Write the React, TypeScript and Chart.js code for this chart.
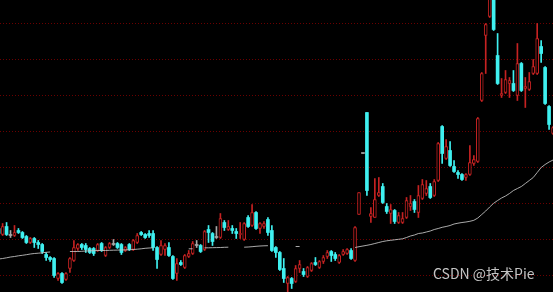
import React, { useEffect, useRef } from "react";
import { Chart, registerables } from "chart.js";

Chart.register(...registerables);

// Daily K-line data (price)
const open = [
  10.47, 10.41, 10.49, 10.40, 10.40, 10.45, 10.43, 10.39, 10.33, 10.37,
  10.33, 10.31, 10.21, 10.18, 10.17, 9.97, 10.02, 9.96, 10.07, 10.15,
  10.27, 10.31, 10.30, 10.27, 10.27, 10.25, 10.32, 10.20, 10.28, 10.31,
  10.32, 10.31, 10.25, 10.31, 10.26, 10.33, 10.43, 10.41, 10.42, 10.42,
  10.28, 10.21, 10.26, 10.28, 10.19, 10.02, 10.13, 10.08, 10.19, 10.22,
  10.30, 10.30, 10.26, 10.46, 10.42, 10.38, 10.38, 10.53, 10.46, 10.47,
  10.44, 10.41, 10.36, 10.58, 10.50, 10.63, 10.47, 10.49, 10.56, 10.45,
  10.28, 10.23, 10.07, 9.92, 9.97, 9.94, 10.07, 10.04, 9.99, 10.05,
  10.13, 10.08, 10.14, 10.19, 10.24, 10.21, 10.13, 10.21, 10.22, 10.25,
  10.15, 10.61, 11.22, 11.63, 10.59, 10.58, 10.80, 10.89, 10.69, 10.62,
  10.65, 10.53, 10.53, 10.58, 10.69, 10.74, 10.63, 10.77, 10.82, 10.89,
  10.80, 10.95, 11.49, 11.17, 11.25, 11.09, 11.03, 11.01, 10.98, 11.01,
  11.12, 11.14, 11.75, 12.40, 12.59, 12.95, 12.20, 11.80, 11.83, 11.92,
  11.92, 11.80, 12.12, 11.87, 11.86, 12.02, 12.02, 12.29, 12.08, 11.69,
  11.42,
];
const high = [
  10.49, 10.52, 10.53, 10.45, 10.50, 10.47, 10.44, 10.40, 10.38, 10.38,
  10.35, 10.32, 10.23, 10.19, 10.18, 10.03, 10.03, 10.03, 10.18, 10.35,
  10.32, 10.32, 10.32, 10.28, 10.28, 10.32, 10.33, 10.29, 10.33, 10.36,
  10.33, 10.32, 10.29, 10.32, 10.36, 10.42, 10.44, 10.42, 10.45, 10.45,
  10.29, 10.35, 10.32, 10.33, 10.20, 10.17, 10.15, 10.21, 10.25, 10.34,
  10.35, 10.31, 10.45, 10.50, 10.43, 10.49, 10.62, 10.55, 10.55, 10.50,
  10.47, 10.53, 10.53, 10.60, 10.71, 10.64, 10.53, 10.54, 10.58, 10.50,
  10.29, 10.24, 10.17, 9.99, 9.98, 10.10, 10.15, 10.07, 10.09, 10.13,
  10.18, 10.15, 10.20, 10.25, 10.25, 10.23, 10.21, 10.26, 10.27, 10.27,
  10.49, 10.83, 11.22, 11.63, 10.68, 10.97, 10.98, 10.92, 10.72, 10.71,
  10.66, 10.63, 10.63, 10.78, 10.80, 10.76, 10.90, 10.96, 10.95, 10.92,
  10.96, 11.33, 11.50, 11.36, 11.34, 11.15, 11.05, 11.02, 11.02, 11.30,
  11.20, 11.58, 12.03, 12.52, 13.05, 13.02, 12.42, 11.97, 12.05, 11.98,
  12.05, 12.32, 12.13, 11.98, 12.03, 12.16, 12.52, 12.35, 12.09, 11.70,
  11.49,
];
const low = [
  10.40, 10.40, 10.40, 10.38, 10.39, 10.42, 10.37, 10.32, 10.32, 10.28,
  10.27, 10.22, 10.15, 10.14, 9.98, 9.95, 9.92, 9.95, 10.03, 10.14,
  10.25, 10.26, 10.23, 10.22, 10.20, 10.24, 10.24, 10.19, 10.27, 10.30,
  10.27, 10.21, 10.24, 10.25, 10.25, 10.32, 10.40, 10.37, 10.38, 10.25,
  10.07, 10.20, 10.20, 10.19, 9.96, 9.95, 10.10, 10.07, 10.18, 10.21,
  10.28, 10.23, 10.25, 10.33, 10.30, 10.37, 10.37, 10.45, 10.45, 10.42,
  10.37, 10.37, 10.35, 10.48, 10.49, 10.46, 10.42, 10.47, 10.40, 10.24,
  10.18, 10.05, 9.93, 9.82, 9.87, 9.93, 10.03, 9.99, 9.98, 10.04,
  10.10, 10.07, 10.12, 10.17, 10.14, 10.15, 10.12, 10.20, 10.21, 10.16,
  10.14, 10.61, 11.22, 10.80, 10.53, 10.58, 10.79, 10.72, 10.62, 10.52,
  10.52, 10.52, 10.52, 10.57, 10.65, 10.63, 10.58, 10.76, 10.80, 10.77,
  10.79, 10.94, 11.12, 11.16, 11.09, 11.03, 10.97, 10.95, 10.95, 11.00,
  11.10, 11.13, 11.74, 12.02, 12.58, 12.45, 11.91, 11.78, 11.82, 11.78,
  11.84, 11.75, 11.84, 11.68, 11.85, 12.01, 12.01, 12.13, 11.71, 11.46,
  11.41,
];
const close = [
  10.42, 10.49, 10.41, 10.40, 10.43, 10.43, 10.38, 10.33, 10.37, 10.33,
  10.31, 10.24, 10.18, 10.16, 10.00, 10.02, 9.93, 10.02, 10.17, 10.28,
  10.31, 10.28, 10.26, 10.23, 10.22, 10.31, 10.25, 10.28, 10.32, 10.31,
  10.28, 10.23, 10.28, 10.26, 10.35, 10.40, 10.41, 10.38, 10.40, 10.28,
  10.16, 10.30, 10.30, 10.20, 9.97, 10.12, 10.11, 10.20, 10.22, 10.32,
  10.30, 10.24, 10.44, 10.43, 10.34, 10.38, 10.57, 10.48, 10.49, 10.45,
  10.42, 10.42, 10.52, 10.49, 10.63, 10.47, 10.52, 10.52, 10.43, 10.25,
  10.23, 10.06, 9.97, 9.98, 9.92, 10.07, 10.11, 10.01, 10.08, 10.12,
  10.11, 10.14, 10.18, 10.23, 10.20, 10.17, 10.20, 10.24, 10.26, 10.17,
  10.48, 10.83, 11.22, 10.85, 10.62, 10.76, 10.83, 10.73, 10.64, 10.66,
  10.54, 10.60, 10.57, 10.75, 10.72, 10.66, 10.80, 10.91, 10.87, 10.78,
  10.94, 11.32, 11.22, 11.29, 11.10, 11.04, 11.01, 10.96, 11.01, 11.13,
  11.16, 11.57, 12.02, 12.51, 13.00, 12.46, 11.92, 11.82, 11.96, 11.95,
  11.85, 12.12, 11.85, 11.89, 11.94, 12.09, 12.37, 12.22, 11.72, 11.51,
  11.48,
];
// Moving average (null where the line is not drawn)
const ma = [
  10.165, 10.17, 10.177, 10.185, 10.19, 10.197, 10.202, 10.208, 10.215, 10.22,
  10.223, 10.227, 10.232, 10.235, null, null, null, null, 10.24, 10.24,
  10.24, 10.242, 10.245, 10.247, 10.248, 10.25, 10.25, 10.25, 10.252, 10.253,
  10.254, 10.255, 10.256, 10.257, 10.26, 10.263, 10.267, 10.272, 10.275, 10.277,
  null, null, null, null, null, null, null, null, 10.267, 10.267,
  null, null, 10.277, 10.277, 10.278, 10.279, 10.28, 10.282, 10.283, null,
  null, null, 10.283, 10.285, 10.288, 10.292, 10.295, 10.297, 10.298, null,
  null, null, null, null, null, 10.29, 10.29, null, null, null,
  null, null, null, null, null, null, null, null, null, null,
  10.28, 10.288, 10.295, 10.302, 10.31, 10.32, 10.33, 10.34, 10.347, 10.352,
  10.357, 10.362, 10.367, 10.38, 10.395, 10.405, 10.42, 10.425, 10.435, 10.445,
  10.46, 10.47, 10.482, 10.49, 10.5, 10.515, 10.523, 10.53, 10.535, 10.542,
  10.552, 10.575, 10.61, 10.645, 10.685, 10.722, 10.75, 10.775, 10.795, 10.82,
  10.85, 10.87, 10.89, 10.92, 10.95, 10.98, 11.03, 11.08, 11.11, 11.135,
  11.155,
];
const gridLevels = [10.0, 10.36, 10.72, 11.08, 11.44, 11.8, 12.16, 12.52];
const watermark = "CSDN @技术Pie";

const UP = "#c62222";
const DOWN = "#3ff0f0";
const FLAT = "#a8a8a8";
const MA_COLOR = "rgba(200,200,200,0.85)";
const GRID = "#6a0000";

export default function App() {
  const ref = useRef<HTMLCanvasElement>(null);

  useEffect(() => {
    document.body.style.margin = "0";
    document.body.style.background = "#000";
    const canvas = ref.current;
    if (!canvas) return;
    const n = open.length;
    const kind = (i: number) =>
      close[i] > open[i] ? "up" : close[i] < open[i] ? "down" : "flat";
    const col = (i: number) =>
      kind(i) === "up" ? UP : kind(i) === "down" ? DOWN : FLAT;
    const idx = Array.from({ length: n }, (_, i) => i);

    const bodies = idx.map((i) => ({
      x: i,
      y: [Math.min(open[i], close[i]), Math.max(open[i], close[i])],
    }));
    const wicks = idx.map((i) => ({ x: i, y: [low[i], high[i]] }));
    const maPts = idx.map((i) => ({ x: i, y: ma[i] }));

    const chart = new Chart(canvas, {
      type: "bar",
      data: {
        datasets: [
          {
            type: "line",
            data: maPts as any,
            borderColor: MA_COLOR,
            borderWidth: 1,
            pointRadius: 0,
            spanGaps: false,
            tension: 0,
            order: 0,
          } as any,
          {
            type: "bar",
            data: bodies as any,
            backgroundColor: idx.map((i) => (kind(i) === "up" ? "#000" : col(i))),
            borderColor: idx.map((i) => col(i)),
            borderWidth: idx.map((i) => (kind(i) === "up" ? 1 : 0)),
            borderSkipped: false,
            barThickness: 3,
            minBarLength: 1,
            grouped: false,
            order: 1,
          } as any,
          {
            type: "bar",
            data: wicks as any,
            backgroundColor: idx.map((i) => col(i)),
            borderWidth: 0,
            barThickness: 1,
            grouped: false,
            order: 2,
          } as any,
        ],
      },
      options: {
        responsive: false,
        maintainAspectRatio: false,
        animation: false,
        events: [],
        layout: { padding: 0 },
        plugins: { legend: { display: false }, tooltip: { enabled: false } },
        scales: {
          x: {
            type: "linear",
            display: false,
            min: 0.343,
            max: 139.99,
            offset: false,
          },
          y: {
            type: "linear",
            min: 9.835,
            max: 12.755,
            afterBuildTicks: (s: any) => {
              s.ticks = gridLevels.map((v) => ({ value: v }));
            },
            ticks: { display: false },
            grid: { color: GRID, drawTicks: false, lineWidth: 1 },
            border: { display: false, dash: [1, 2] },
          },
        },
      } as any,
    });
    return () => chart.destroy();
  }, []);

  return (
    <div
      style={{
        position: "fixed",
        left: 0,
        top: 0,
        width: 553,
        height: 292,
        background: "#000",
        overflow: "hidden",
      }}
    >
      <canvas ref={ref} width={553} height={292} style={{ display: "block" }} />
      <div
        style={{
          position: "absolute",
          left: 433,
          top: 265,
          fontFamily: '"Noto Sans CJK SC", "Noto Sans", sans-serif',
          fontSize: 14,
          lineHeight: "16px",
          color: "#c4c4c4",
          whiteSpace: "nowrap",
        }}
      >
        {watermark}
      </div>
    </div>
  );
}
